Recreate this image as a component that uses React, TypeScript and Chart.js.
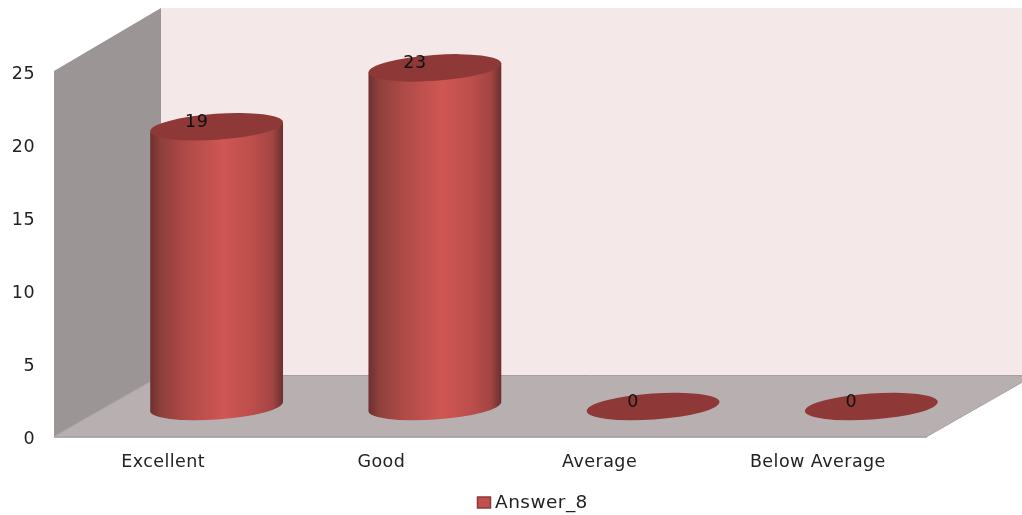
import React, { useEffect, useRef } from "react";
import { Chart, registerables } from "chart.js";

Chart.register(...registerables);

const categories = ["Excellent", "Good", "Average", "Below Average"];
const seriesName = "Answer_8";
const seriesValues = [19, 23, 0, 0];
const yMax = 25;
const yStep = 5;

const FONT = "'DejaVu Sans', sans-serif";
const TEXT = "#222222";
const DEPTH_X = 107;
const DEPTH_Y = 61;
const WALL_TOP = 8;
const TILT = (4 * Math.PI) / 180;
const RY = 13;

const cylinderPlugin = {
  id: "cylinder3d",
  beforeDraw(chart: any) {
    (chart.ctx as any).letterSpacing = "0.45px";
  },
  afterLayout(chart: any) {
    const l = chart.legend;
    if (l) {
      const shift = 530.5 - (l.left + l.right) / 2;
      l.left += shift;
      l.right += shift;
      l.top += 7;
      l.bottom += 7;
    }
  },
  beforeDatasetsDraw(chart: any) {
    const { ctx, chartArea: a } = chart;
    const W = chart.width;
    const bx = a.left + DEPTH_X;
    const by = a.bottom - DEPTH_Y;
    ctx.save();
    // back wall
    ctx.fillStyle = "#f4e8e8";
    ctx.fillRect(bx, WALL_TOP, W - bx, by - WALL_TOP);
    // side wall
    ctx.beginPath();
    ctx.moveTo(a.left, a.bottom);
    ctx.lineTo(a.left, a.top);
    ctx.lineTo(bx, WALL_TOP);
    ctx.lineTo(bx, by);
    ctx.closePath();
    ctx.fillStyle = "#9b9695";
    ctx.fill();
    // floor
    ctx.beginPath();
    ctx.moveTo(a.left, a.bottom);
    ctx.lineTo(a.right, a.bottom);
    ctx.lineTo(a.right + DEPTH_X, by);
    ctx.lineTo(bx, by);
    ctx.closePath();
    ctx.fillStyle = "#b8b0b0";
    ctx.fill();
    ctx.strokeStyle = "#a5a0a0";
    ctx.lineWidth = 1;
    ctx.beginPath();
    ctx.moveTo(bx, by);
    ctx.lineTo(W, by);
    ctx.moveTo(a.right, a.bottom);
    ctx.lineTo(a.right + DEPTH_X, by);
    ctx.moveTo(a.left, a.bottom);
    ctx.lineTo(bx, by);
    ctx.stroke();
    ctx.strokeStyle = "#9a9595";
    ctx.lineWidth = 1.5;
    ctx.beginPath();
    ctx.moveTo(a.left, a.bottom + 0.5);
    ctx.lineTo(a.right, a.bottom + 0.5);
    ctx.stroke();
    ctx.restore();
  },
  beforeDatasetDraw(chart: any, args: any) {
    const { ctx } = chart;
    const meta = args.meta;
    const dx = DEPTH_X / 2;
    const dy = DEPTH_Y / 2 - 0.5;
    meta.data.forEach((bar: any) => {
      const rx = bar.width / 2;
      const cx = bar.x + dx;
      const baseY = bar.base - dy;
      const topY = baseY - (bar.base - bar.y) * 1.007;
      const tipX = rx * Math.cos(TILT);
      const tipY = rx * Math.sin(TILT);
      ctx.save();
      if (baseY - topY > 0.5) {
        const g = ctx.createLinearGradient(cx - rx, 0, cx + rx, 0);
        g.addColorStop(0, "#6c302f");
        g.addColorStop(0.08, "#8f3f3d");
        g.addColorStop(0.28, "#b04b48");
        g.addColorStop(0.55, "#cf5653");
        g.addColorStop(0.75, "#bf4f4c");
        g.addColorStop(0.92, "#a34543");
        g.addColorStop(1, "#6a2f2e");
        ctx.beginPath();
        ctx.moveTo(cx - tipX, topY + tipY);
        ctx.lineTo(cx - tipX, baseY + tipY);
        ctx.ellipse(cx, baseY, rx, RY, -TILT, Math.PI, 0, true);
        ctx.lineTo(cx + tipX, topY - tipY);
        ctx.closePath();
        ctx.fillStyle = g;
        ctx.fill();
      }
      ctx.beginPath();
      ctx.ellipse(cx, topY, rx, RY, -TILT, 0, Math.PI * 2);
      ctx.fillStyle = "#8e3937";
      ctx.fill();
      ctx.restore();
    });
    return false;
  },
  afterDatasetsDraw(chart: any) {
    const { ctx } = chart;
    const meta = chart.getDatasetMeta(0);
    const values = chart.data.datasets[0].data;
    ctx.save();
    ctx.font = `17.5px ${FONT}`;
    ctx.fillStyle = "#111111";
    ctx.textAlign = "center";
    ctx.textBaseline = "middle";
    meta.data.forEach((bar: any, i: number) => {
      const dy = DEPTH_Y / 2 - 0.5;
      const topY = bar.base - dy - (bar.base - bar.y) * 1.007;
      ctx.fillText(String(values[i]), bar.x + DEPTH_X / 2 - 20, topY - 4.5);
    });
    ctx.restore();
  },
  afterDraw(chart: any) {
    const box = chart.legend?.legendHitBoxes?.[0];
    if (!box) return;
    const { ctx } = chart;
    ctx.save();
    ctx.fillStyle = "#c0504d";
    ctx.strokeStyle = "#8e3937";
    ctx.lineWidth = 1.5;
    ctx.fillRect(477.5, 497, 13, 11);
    ctx.strokeRect(477.5, 497, 13, 11);
    ctx.restore();
  },
};

export default function App() {
  const ref = useRef<HTMLCanvasElement>(null);
  useEffect(() => {
    const chart = new Chart(ref.current as HTMLCanvasElement, {
      type: "bar",
      data: {
        labels: categories,
        datasets: [
          {
            label: seriesName,
            data: seriesValues,
            backgroundColor: "#c0504d",
            borderColor: "#8e3937",
            borderWidth: 1.5,
            barPercentage: 0.61,
            categoryPercentage: 1,
          },
        ],
      },
      options: {
        responsive: false,
        animation: false,
        layout: { padding: { left: 0, right: 95, top: 71, bottom: 0 } },
        scales: {
          x: {
            grid: { display: false, drawTicks: false },
            border: { display: false },
            ticks: { color: TEXT, padding: 15, font: { family: FONT, size: 17.5 }, maxRotation: 0 },
            afterFit: (s: any) => {
              s.height = 46;
            },
          },
          y: {
            min: 0,
            max: yMax,
            grid: { display: false, drawTicks: false },
            border: { display: false },
            ticks: { stepSize: yStep, color: TEXT, padding: 19, labelOffset: 3, font: { family: FONT, size: 17.5 } },
            afterFit: (s: any) => {
              s.width = 54;
            },
          },
        },
        plugins: {
          title: { display: false },
          tooltip: { enabled: false },
          legend: {
            position: "bottom",
            labels: {
              boxWidth: 9,
              boxHeight: 11,
              padding: 4,
              color: TEXT,
              font: { family: FONT, size: 18.5 },
              generateLabels: (c: any) => [
                {
                  text: c.data.datasets[0].label,
                  fillStyle: "rgba(0,0,0,0)",
                  strokeStyle: "rgba(0,0,0,0)",
                  lineWidth: 0,
                  hidden: false,
                  datasetIndex: 0,
                  fontColor: TEXT,
                },
              ],
            },
          },
        },
      },
      plugins: [cylinderPlugin],
    } as any);
    return () => chart.destroy();
  }, []);
  return (
    <div style={{ position: "fixed", left: 0, top: 0, width: 1022, height: 515, background: "#fff" }}>
      <canvas ref={ref} width={1022} height={515} style={{ display: "block", filter: "blur(0.4px)" }} />
    </div>
  );
}
